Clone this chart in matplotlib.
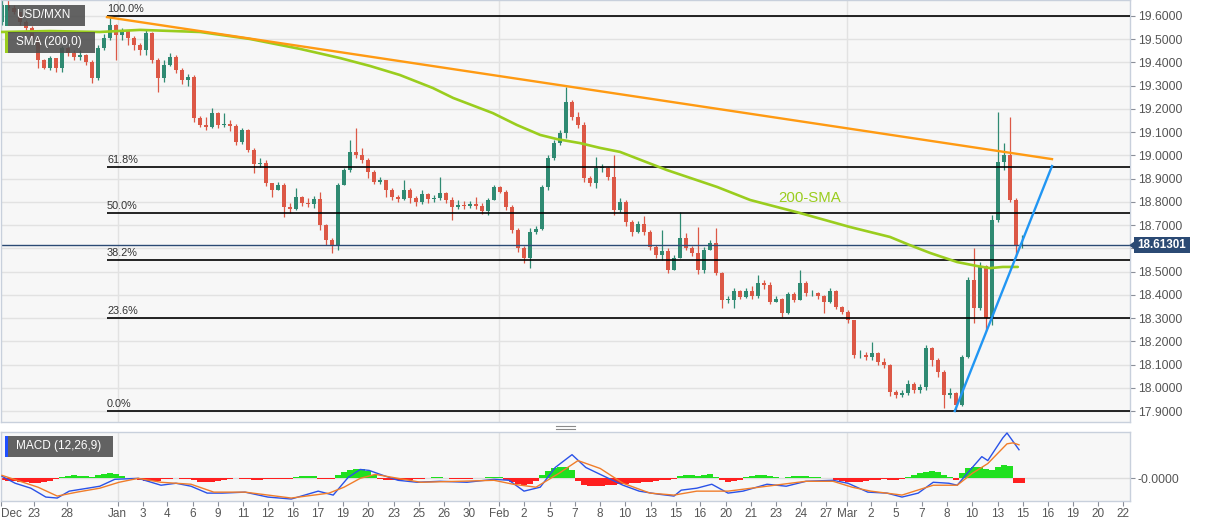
"""USD/MXN 4H chart: candles, Fibonacci retracement, 200-SMA, trendlines and MACD."""

from __future__ import annotations

import matplotlib

matplotlib.use("Agg")

import matplotlib.pyplot as plt
import numpy as np
from matplotlib.lines import Line2D
from matplotlib.patches import Polygon, Rectangle
from matplotlib.transforms import blended_transform_factory

plt.rcParams["font.family"] = ["Liberation Sans", "DejaVu Sans"]

W, H = 1207, 526

# candles (open of each candle = previous close)
FIRST_OPEN = 19.574
CLOSES = [
    19.647, 19.634, 19.617, 19.574, 19.548, 19.505, 19.410, 19.376, 19.419, 19.376,
    19.462, 19.441, 19.423, 19.432, 19.402, 19.333, 19.462, 19.505, 19.560, 19.518,
    19.540, 19.505, 19.475, 19.453, 19.527, 19.410, 19.333, 19.389, 19.423, 19.367,
    19.324, 19.337, 19.161, 19.131, 19.122, 19.182, 19.131, 19.135, 19.126, 19.058,
    19.109, 19.023, 18.963, 18.967, 18.881, 18.851, 18.873, 18.778, 18.769, 18.821,
    18.795, 18.791, 18.812, 18.700, 18.636, 18.610, 18.873, 18.937, 19.015, 19.002,
    18.980, 18.929, 18.885, 18.894, 18.851, 18.821, 18.812, 18.851, 18.817, 18.799,
    18.834, 18.812, 18.817, 18.838, 18.808, 18.778, 18.786, 18.782, 18.791, 18.782,
    18.761, 18.808, 18.864, 18.842, 18.778, 18.679, 18.602, 18.558, 18.670, 18.683,
    18.864, 18.989, 19.053, 19.096, 19.229, 19.165, 19.131, 18.903, 18.881, 18.946,
    18.946, 18.907, 18.765, 18.799, 18.713, 18.670, 18.705, 18.670, 18.606, 18.571,
    18.589, 18.507, 18.558, 18.645, 18.602, 18.580, 18.507, 18.593, 18.623, 18.494,
    18.378, 18.378, 18.416, 18.391, 18.416, 18.395, 18.451, 18.442, 18.369, 18.382,
    18.322, 18.404, 18.378, 18.451, 18.408, 18.408, 18.395, 18.369, 18.416, 18.348,
    18.326, 18.292, 18.141, 18.141, 18.132, 18.150, 18.111, 18.098, 17.982, 17.969,
    17.978, 18.016, 17.990, 18.003, 18.171, 18.120, 18.068, 17.969, 17.978, 17.926,
    18.132, 18.464, 18.343, 18.524, 18.300, 18.722, 18.972, 19.002, 18.808, 18.610,
    18.61301,
]
HIGHS = [
    19.669, 19.669, 19.647, 19.617, 19.583, 19.557, 19.514, 19.414, 19.428, 19.419,
    19.471, 19.466, 19.453, 19.453, 19.436, 19.410, 19.475, 19.522, 19.600, 19.565,
    19.548, 19.540, 19.514, 19.484, 19.544, 19.531, 19.419, 19.410, 19.441, 19.432,
    19.376, 19.350, 19.346, 19.169, 19.165, 19.204, 19.187, 19.182, 19.152, 19.135,
    19.118, 19.114, 19.032, 18.989, 18.980, 18.881, 18.885, 18.881, 18.795, 18.860,
    18.825, 18.817, 18.825, 18.842, 18.705, 18.645, 18.881, 18.946, 19.066, 19.118,
    19.032, 18.989, 18.937, 18.907, 18.894, 18.860, 18.830, 18.894, 18.860, 18.825,
    18.851, 18.838, 18.830, 18.907, 18.842, 18.821, 18.808, 18.804, 18.804, 18.821,
    18.795, 18.817, 18.873, 18.868, 18.851, 18.786, 18.688, 18.610, 18.688, 18.696,
    18.873, 19.002, 19.066, 19.109, 19.294, 19.238, 19.187, 19.144, 18.911, 18.993,
    18.963, 18.950, 19.002, 18.817, 18.808, 18.722, 18.718, 18.739, 18.679, 18.614,
    18.679, 18.602, 18.571, 18.756, 18.666, 18.610, 18.692, 18.606, 18.636, 18.688,
    18.498, 18.395, 18.429, 18.421, 18.429, 18.438, 18.485, 18.464, 18.455, 18.395,
    18.386, 18.412, 18.412, 18.507, 18.460, 18.421, 18.412, 18.399, 18.429, 18.421,
    18.352, 18.335, 18.292, 18.163, 18.154, 18.197, 18.154, 18.128, 18.102, 17.990,
    17.990, 18.034, 18.025, 18.016, 18.184, 18.175, 18.128, 18.077, 17.999, 17.982,
    18.141, 18.477, 18.602, 18.541, 18.528, 18.744, 19.187, 19.053, 19.165, 18.817,
    18.657,
]
LOWS = [
    19.561, 19.626, 19.608, 19.561, 19.540, 19.488, 19.376, 19.372, 19.367, 19.359,
    19.359, 19.428, 19.410, 19.410, 19.389, 19.311, 19.324, 19.453, 19.497, 19.410,
    19.497, 19.475, 19.453, 19.432, 19.432, 19.398, 19.273, 19.316, 19.385, 19.355,
    19.307, 19.299, 19.144, 19.122, 19.109, 19.118, 19.118, 19.122, 19.105, 19.045,
    19.050, 19.015, 18.924, 18.950, 18.868, 18.821, 18.851, 18.735, 18.752, 18.765,
    18.782, 18.778, 18.774, 18.679, 18.614, 18.580, 18.593, 18.873, 18.929, 18.989,
    18.967, 18.903, 18.877, 18.877, 18.821, 18.808, 18.799, 18.808, 18.795, 18.782,
    18.791, 18.795, 18.799, 18.808, 18.795, 18.722, 18.769, 18.769, 18.774, 18.769,
    18.748, 18.744, 18.808, 18.838, 18.765, 18.666, 18.584, 18.537, 18.515, 18.662,
    18.679, 18.851, 18.980, 19.045, 19.075, 19.152, 19.118, 18.885, 18.868, 18.860,
    18.929, 18.894, 18.744, 18.756, 18.696, 18.653, 18.666, 18.657, 18.593, 18.558,
    18.550, 18.494, 18.507, 18.558, 18.593, 18.567, 18.490, 18.494, 18.593, 18.485,
    18.343, 18.365, 18.343, 18.382, 18.386, 18.382, 18.386, 18.425, 18.361, 18.369,
    18.305, 18.318, 18.369, 18.378, 18.395, 18.395, 18.382, 18.322, 18.365, 18.339,
    18.318, 18.279, 18.128, 18.128, 18.120, 18.120, 18.098, 18.085, 17.965, 17.956,
    17.960, 17.969, 17.978, 17.978, 17.990, 18.094, 18.046, 17.913, 17.956, 17.900,
    17.922, 18.128, 18.279, 18.335, 18.244, 18.270, 18.713, 18.937, 18.799, 18.563,
    18.602,
]

# 200-period SMA read at a few candles
SMA_IDX = [-0.2, 8, 16.3, 23, 33, 41.3, 49.7, 56.3, 61.3, 66.3, 71.8, 75.2, 81.8, 85.8,
           89.7, 92.5, 96.3, 99.7, 103, 110.8, 119.2, 124.7, 133, 141.3, 148, 151.3,
           154.7, 159.2, 162.5, 164.7, 166.8, 169.3]
SMA_VAL = [19.531, 19.535, 19.531, 19.540, 19.531, 19.501, 19.458, 19.419, 19.385,
           19.346, 19.290, 19.247, 19.182, 19.131, 19.088, 19.070, 19.053, 19.032,
           19.015, 18.937, 18.864, 18.808, 18.752, 18.692, 18.649, 18.614, 18.580,
           18.541, 18.524, 18.515, 18.520, 18.520]

# Fibonacci swing and trendlines
FIB_HIGH = 19.600
FIB_LOW = 17.900
FIB_START = 17.5
FIB_RATIOS = [1.0, 0.618, 0.5, 0.382, 0.236, 0.0]
RESIST_IDX = [17.5, 175.0]
RESIST_VAL = [19.595, 18.984]
SUPPORT_IDX = [158.8, 175.0]
SUPPORT_VAL = [17.900, 18.954]

# MACD (12,26,9), values in 1e-3
MACD_IDX = [0, 2.2, 4.8, 7.3, 9.2, 11.2, 14.3, 16.3, 18.8, 22.7, 26.5, 29, 31.5, 34.2,
            36.7, 40.5, 44.3, 48.2, 52.7, 55.2, 57.7, 59.7, 61.2, 63.5, 66, 69.2, 73,
            77.5, 82, 84.5, 87, 89.7, 92.2, 95, 97.3, 99.7, 103.5, 106.2, 109.3, 112,
            113.2, 115.8, 118.3, 121, 123.5, 127.5, 130.7, 134, 138.5, 141, 144.3,
            147.5, 150, 152.7, 155.2, 157.8, 159.2, 161, 163.3, 164.3, 166.8, 167.5,
            169.5]
MACD_VAL = [2, -5, -10, -19, -20, -13, -10, -8, -1, 0, -7, -5, -8, -15, -15, -14, -19,
            -21, -13, -17, 1, 9, 8, 3, -2, -4, -3, -4, -1, -2, -13, -9, 11, 24, 11, 4,
            -7, -13, -16, -18, -12, -10, -6, -15, -13, -6, -8, -3, -2, -5, -14, -15,
            -19, -15, -4, -5, -7, 6, 22, 18, 41, 46, 29]
SIGNAL_IDX = [0, 3.5, 6, 9.2, 12.5, 16.3, 19.5, 22.7, 26.5, 31.5, 35.3, 40.5, 48.2,
              54.5, 57, 59.7, 62.2, 66, 69.8, 76.2, 82, 85.2, 89, 92.8, 96, 99.7, 103.5,
              108, 112, 115.8, 121, 127.5, 134, 138.5, 141.7, 144.8, 150, 155.2, 159.2,
              161.7, 164.3, 167.5, 168.5, 169.5]
SIGNAL_VAL = [3, -4, -9, -18, -14, -10, -4, 0, -4, -6, -14, -14, -20, -15, -9, 0, 4, 0,
              -4, -3, -2, -6, -9, 5, 18, 10, -5, -15, -17, -13, -13, -8, -3, -3, -9,
              -13, -17, -7, -7, 5, 15, 35, 36, 34]
HIST_VAL = [
    -2, -3, -3, -4, -4, -5, -5, -4, -3, -1,
    1, 2, 3, 2, 2, 1,
    3, 4.5, 5, 4, 2.5,
    0.5, -1, -2, -3, -3, -2.5, -1,
    -0.3, 0.3, -0.3, -0.5,
    -2, -3.5, -4, -4, -3, -1.5,
    -0.3, 0.3, -0.3, -0.5,
    -1.5, -1.5, -1, -0.8,
    -1, -0.8, -0.5,
    1, 2, 2, 2.5,
    -0.5, -1, -1,
    3, 6, 8, 9, 9, 7, 3,
    -1, -2, -2, -2, -1.5, -1.5, -1, -0.5,
    0.5, 1, 1, 0.5,
    -0.3, -0.5, -0.5, -0.3, 0.3, 0.5, 1,
    1.5, 1,
    -2, -4, -6, -7, -6, -3,
    3, 7, 10, 12, 11, 8,
    -3, -7, -8, -8,
    -8, -7, -7, -6, -6, -5, -5, -4, -3.5, -3, -2, -1.5, -1,
    2, 3, 3, 2.5, 3, 4, 1,
    -2, -3.5, -3, -1.5,
    1, 2, 3, 3, 2, 1,
    0.5, 1.5, 2, 2.5, 2, 1.5, 1, 0.5, 0.3,
    -1.5, -3, -4, -4, -3.5, -3, -2, -1.5, -1, -2, -2, -1,
    1.5, 3, 5, 6.5, 7, 6, 3, 1,
    -1.5,
    5, 10, 11, 11, 9,
    8, 12, 14, 13,
    -5, -5,
]

TICK_LABELS = ["Dec", "23", "28", "Jan", "3", "4", "6", "9", "11", "12", "16", "17", "19",
               "20", "23", "25", "26", "30", "Feb", "2", "5", "7", "8", "10", "13", "15",
               "16", "20", "21", "23", "24", "27", "Mar", "2", "5", "7", "8", "10", "13",
               "15", "16", "19", "20", "22"]
TICK_POS = [-0.17, 5.28, 10.83, 19.25, 23.42, 27.58, 31.75, 35.92, 40.17, 44.33, 48.5,
            52.67, 56.83, 61.08, 65.33, 69.5, 73.67, 77.83, 82.83, 87, 91.33, 95.5,
            99.67, 103.83, 108.17, 112.33, 116.33, 120.67, 124.83, 129, 133.17, 137.33,
            140.83, 144.83, 149, 153.33, 157.5, 161.67, 166, 170.17, 174.33, 178.5,
            182.67, 186.83]
MONTHS = ("Jan", "Feb", "Mar")

UP = "#2f8a72"
DOWN = "#dc5846"
PANEL_BG = "#f7f7f7"
FRAME = "#c8d0dc"
TEXT = "#555555"
XLIM = (-0.17, 188.0)


def _fig_rect(x0: float, y0: float, x1: float, y1: float) -> tuple:
    return (x0 / W, 1 - y1 / H), (x1 - x0) / W, (y1 - y0) / H


def _style_panel(axis) -> None:
    axis.set_facecolor(PANEL_BG)
    for spine in axis.spines.values():
        spine.set_color(FRAME)
        spine.set_linewidth(1.0)
    axis.set_xlim(*XLIM)
    axis.yaxis.tick_right()
    axis.tick_params(axis="y", length=3.5, color="#8a8f99", labelcolor=TEXT,
                     labelsize=8.8, pad=2)
    for pos, label in zip(TICK_POS, TICK_LABELS):
        if label in MONTHS:
            axis.axvline(pos, color="#e2e2e2", linewidth=1.0, zorder=0)


def _draw_price(axis) -> None:
    closes = np.array(CLOSES)
    opens = np.r_[FIRST_OPEN, closes[:-1]]
    idx = np.arange(len(closes))
    colors = np.where(closes >= opens, UP, DOWN)
    axis.vlines(idx, LOWS, HIGHS, colors=colors, linewidth=0.9, zorder=2)
    axis.bar(idx, np.maximum(np.abs(closes - opens), 0.002),
             bottom=np.minimum(opens, closes), width=0.62, color=colors,
             linewidth=0, zorder=2)

    levels = np.arange(17.9, 19.65, 0.1)
    axis.set_yticks(levels)
    axis.set_yticklabels(["" if abs(v - 18.6) < 1e-6 else f"{v:.4f}" for v in levels])
    axis.set_ylim(17.8528, 19.6686)
    for v in levels:
        axis.axhline(v, color="#e2e2e2", linewidth=1.0, zorder=0)
    axis.tick_params(axis="x", bottom=False, labelbottom=False)

    for ratio in FIB_RATIOS:
        level = FIB_LOW + ratio * (FIB_HIGH - FIB_LOW)
        axis.hlines(level, FIB_START, XLIM[1], color="black", linewidth=1.2, zorder=3)
        axis.annotate(f"{ratio * 100:.1f}%", (FIB_START, level), xytext=(0, 1.5),
                      textcoords="offset points", fontsize=7.8, color="#333333",
                      va="bottom", ha="left", zorder=3)

    axis.plot(SMA_IDX, SMA_VAL, color="#9acd1e", linewidth=1.9, zorder=3,
              solid_capstyle="round")
    axis.plot(RESIST_IDX, RESIST_VAL, color="#ff9a12", linewidth=1.7, zorder=3)
    axis.plot(SUPPORT_IDX, SUPPORT_VAL, color="#2196f3", linewidth=1.7, zorder=3)
    axis.text(129.3, 18.817, "200-SMA", color="#9acd1e", fontsize=10.8,
              va="center", ha="left", zorder=3)

    last = CLOSES[-1]
    axis.axhline(last, color="#2b4a74", linewidth=1.0, zorder=2.5)
    blend = blended_transform_factory(axis.figure.transFigure, axis.transData)
    half = 8 * (19.6686 - 17.8528) / 422
    axis.add_patch(Rectangle((1134 / W, last - half), 56 / W, 2 * half,
                             transform=blend, facecolor="#2b4a74", edgecolor="none",
                             clip_on=False, zorder=5))
    axis.add_patch(Polygon([(1129 / W, last), (1135 / W, last + half * 0.55),
                            (1135 / W, last - half * 0.55)], closed=True,
                           transform=blend, facecolor="#2b4a74", edgecolor="none",
                           clip_on=False, zorder=5))
    axis.text(1162 / W, last, f"{last:.5f}", transform=blend, color="white",
              fontsize=8.4, fontweight="bold", ha="center", va="center",
              clip_on=False, zorder=6)


def _draw_macd(axis) -> None:
    scale = 1e-3
    hist = np.array(HIST_VAL) * scale
    idx = np.arange(len(hist))
    axis.bar(idx, hist, width=1.0, linewidth=0, zorder=2,
             color=np.where(hist >= 0, "#1fe01f", "#ff1f1f"))
    axis.axhline(0, color="#dddddd", linewidth=1.0, zorder=1)
    axis.plot(MACD_IDX, np.array(MACD_VAL) * scale, color="#2a52e8", linewidth=1.0,
              zorder=3)
    axis.plot(SIGNAL_IDX, np.array(SIGNAL_VAL) * scale, color="#f07d2a", linewidth=1.0,
              zorder=3)
    axis.set_ylim(-0.023, 0.047)
    axis.set_yticks([0])
    axis.set_yticklabels(["-0.0000"])
    axis.set_xticks(TICK_POS)
    axis.set_xticklabels(TICK_LABELS)
    axis.tick_params(axis="x", length=3.5, color="#8a8f99", labelcolor=TEXT,
                     labelsize=8.5, pad=1.5)
    axis.get_xticklabels()[0].set_ha("left")


def _legend_box(figure, box: tuple, text: str, strip: str) -> None:
    x0, y0, x1, y1 = box
    xy, w, h = _fig_rect(x0, y0, x1, y1)
    figure.add_artist(Rectangle(xy, w, h, transform=figure.transFigure,
                                facecolor="#4d4d4d", alpha=0.88, edgecolor="none"))
    figure.add_artist(Rectangle(xy, 2.5 / W, h, transform=figure.transFigure,
                                facecolor=strip, edgecolor="none"))
    figure.text((x0 + 11) / W, 1 - (y0 + y1) / 2 / H, text, color="white",
                fontsize=8.5, va="center", ha="left")


def main() -> int:
    figure = plt.figure(figsize=(W / 100, H / 100), dpi=100, facecolor="white")
    price_ax = figure.add_axes([1 / W, 1 - 422 / H, 1129 / W, 422 / H])
    macd_ax = figure.add_axes([1 / W, 1 - 501 / H, 1129 / W, 69 / H])
    for axis in (price_ax, macd_ax):
        _style_panel(axis)
    _draw_price(price_ax)
    _draw_macd(macd_ax)

    _legend_box(figure, (5, 5, 85, 26), "USD/MXN", "#2f8a72")
    _legend_box(figure, (5, 32, 95, 53), "SMA (200,0)", "#9acd1e")
    _legend_box(figure, (5, 436, 113, 457), "MACD (12,26,9)", "#1f4fff")
    for y in (425.5, 428.5):
        figure.add_artist(Line2D([556 / W, 575 / W], [1 - y / H, 1 - y / H],
                                 transform=figure.transFigure, color="#8a8a8a",
                                 linewidth=0.8))

    figure.savefig("out.png", dpi=100, facecolor="white")
    return 0


if __name__ == "__main__":
    raise SystemExit(main())
